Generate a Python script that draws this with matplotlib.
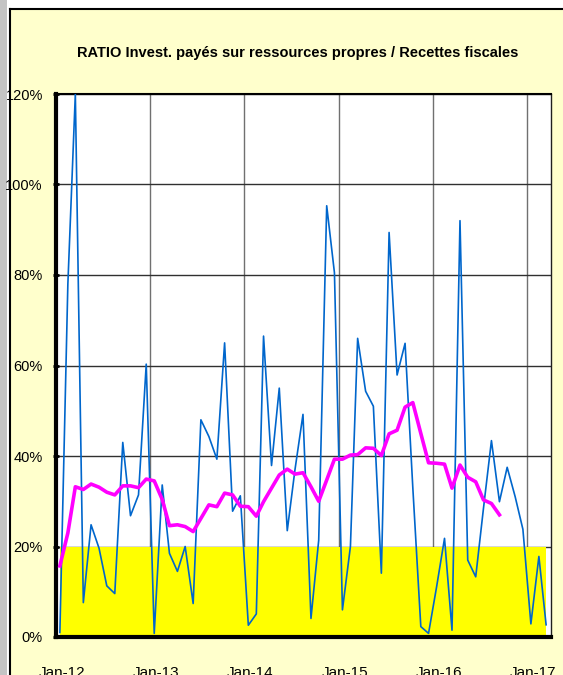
import matplotlib
matplotlib.use("Agg")
import matplotlib.pyplot as plt
import matplotlib.dates as mdates
import matplotlib.transforms as mtransforms
from matplotlib.patches import Rectangle
from matplotlib.lines import Line2D
import pandas as pd
import numpy as np

title = "RATIO Invest. payés sur ressources propres / Recettes fiscales"

ratio = [1, 78, 120, 7.6, 24.8, 19.6, 11.3, 9.6, 43, 26.8, 31.4, 60.3,
         0.8, 33.6, 18.5, 14.5, 20, 7.4, 48, 44.3, 39.3, 65, 27.8, 31.2,
         2.6, 5.1, 66.5, 37.9, 55, 23.5, 37, 49.2, 4.1, 21.4, 95.3, 80.5,
         6, 20, 66, 54.3, 51, 14.1, 89.4, 57.9, 64.9, 33, 2.3, 0.8,
         11, 21.8, 1.5, 92, 17, 13.3, 28.4, 43.4, 29.9, 37.5, 31, 23.8,
         2.9, 17.8, 2.7]

moyenne = [15.7, 23, 33.2, 32.6, 33.8, 33.1, 32, 31.4, 33.4, 33.4, 33, 34.9,
           34.5, 30.4, 24.6, 24.8, 24.4, 23.3, 26.2, 29.2, 28.8, 31.8, 31.4, 28.9,
           28.8, 26.7, 29.9, 32.9, 35.8, 37.1, 36, 36.3, 33.2, 30, 34.7, 39.3,
           39.3, 40.2, 40.3, 41.8, 41.7, 40.1, 44.9, 45.7, 50.8, 51.8, 45, 38.5,
           38.4, 38.2, 32.9, 38, 35.3, 34.3, 30.3, 29.5, 27]

seuil = [20] * len(ratio)

dates = pd.date_range("2012-01-01", periods=len(ratio), freq="MS") + pd.Timedelta(days=15)

FONT = ["Liberation Sans Narrow", "Liberation Sans", "DejaVu Sans"]
plt.rcParams["font.family"] = FONT

W, H = 563, 675
fig = plt.figure(figsize=(W / 100, H / 100), dpi=100, facecolor="white")

# outer frame / background
fig.patches.append(Rectangle((0, 0), 7 / W, 1, transform=fig.transFigure,
                             facecolor="#C4C4C4", edgecolor="none", zorder=-3))
fig.patches.append(Rectangle((10 / W, 0), 1 - 10 / W, 1 - 9 / H, transform=fig.transFigure,
                             facecolor="#FFFFCC", edgecolor="none", zorder=-3))
fig.lines.append(Line2D([10 / W, 10 / W], [0, 1 - 9 / H], transform=fig.transFigure,
                        color="black", lw=1.5, zorder=-2))
fig.lines.append(Line2D([10 / W, 1], [1 - 9 / H, 1 - 9 / H], transform=fig.transFigure,
                        color="black", lw=1.5, zorder=-2))

left, right, top, bottom = 56, 551, 94, 637
ax = fig.add_axes([left / W, 1 - bottom / H, (right - left) / W, (bottom - top) / H])
ax.set_facecolor("white")

ax.fill_between(dates, 0, seuil, color="#FFFF00", lw=0, zorder=1)
ax.plot(dates, ratio, color="#0066CC", lw=1.2, zorder=3)
ax.plot(dates[:len(moyenne)], moyenne, color="#FF00FF", lw=2.6, zorder=4)

ax.set_ylim(0, 120)
ax.set_xlim(pd.Timestamp("2012-01-01"), pd.Timestamp("2017-04-04"))
ax.set_yticks(np.arange(0, 121, 20))
ax.set_yticklabels([f"{v}%" for v in range(0, 121, 20)])
ax.xaxis.set_major_locator(mdates.YearLocator())
ax.xaxis.set_major_formatter(mdates.DateFormatter("%b-%y"))

ax.set_axisbelow(True)
ax.grid(axis="y", color="#303030", lw=1.0)
ax.grid(axis="x", color="#707070", lw=1.0)

for s in ["left", "bottom"]:
    ax.spines[s].set_linewidth(3)
    ax.spines[s].set_color("black")
ax.spines["top"].set_linewidth(1.5)
ax.spines["right"].set_linewidth(1.0)
ax.spines["right"].set_color("#202020")

ax.tick_params(axis="y", direction="inout", length=5, width=2, pad=7,
               labelsize=10.5, colors="black")
ax.tick_params(axis="x", direction="in", length=5, width=2, pad=21,
               labelsize=11, colors="black")

shift = mtransforms.ScaledTranslation(6 / 100, 0, fig.dpi_scale_trans)
for lab in ax.get_xticklabels():
    lab.set_transform(lab.get_transform() + shift)

fig.text(298 / W, 1 - 53 / H, title, ha="center", va="center",
         fontsize=10.5, fontweight="bold", color="black")

fig.savefig("out.png", dpi=100, facecolor=fig.get_facecolor())
